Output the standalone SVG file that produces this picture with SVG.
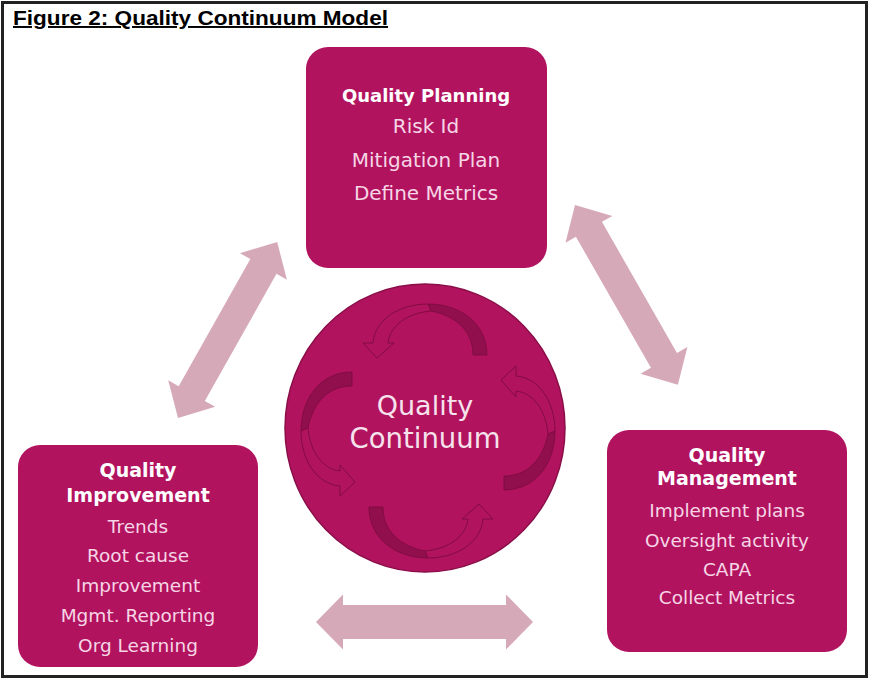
<svg xmlns="http://www.w3.org/2000/svg" xmlns:xlink="http://www.w3.org/1999/xlink" width="873" height="684" viewBox="0 0 873 684">
<style>
.box{fill:#B2135F;}
.t{font-family:"DejaVu Sans","Liberation Sans",sans-serif;text-anchor:middle;}
.hd{font-weight:bold;fill:#FFFFFF;}
.it{fill:#F6D6E6;}
.conn{fill:#D6A9B8;}
.dark{fill:#920F4D;stroke:#7A0B3E;stroke-width:0.8;}
.front{fill:#B2135F;stroke:#7A0B3E;stroke-width:0.9;}
</style>
<defs>
<g id="swirl">
<path class="dark" d="M45,-76 L59,-76 C59,-108 32,-127 0,-127 L3,-120 C28,-115 45,-100 45,-76 Z"/>
<path class="front" d="M-55,-88 C-53,-112 -28,-127 0,-127 L3,-120 C-20,-118 -38,-106 -40,-88 L-34,-88 L-51,-73 L-65,-88 Z"/>
</g>
</defs>
<rect x="0" y="0" width="873" height="684" fill="#FFFFFF"/>
<rect x="2.5" y="2.5" width="864" height="674" fill="none" stroke="#222222" stroke-width="3"/>
<text x="13" y="25" font-family="'Liberation Sans',Arial,sans-serif" font-weight="bold" font-size="19.5" fill="#000000" text-decoration="underline" textLength="375" lengthAdjust="spacingAndGlyphs">Figure 2: Quality Continuum Model</text>

<g id="connectors">
<path class="conn" d="M0,0 L28,-27 L28,-15 L174,-15 L174,-27 L202,0 L174,27 L174,15 L28,15 L28,27 Z" transform="translate(178,418) rotate(-60.6)"/>
<path class="conn" d="M0,0 L28,-27 L28,-15 L179,-15 L179,-27 L207,0 L179,27 L179,15 L28,15 L28,27 Z" transform="translate(575,205) rotate(60.2)"/>
<path class="conn" d="M316,622 L343,594.5 L343,605 L506,605 L506,594.5 L533,622 L506,649.5 L506,639 L343,639 L343,649.5 Z"/>
</g>

<g id="planning">
<rect class="box" x="306" y="47" width="241" height="221" rx="22"/>
<text class="t hd" x="426" y="102" font-size="18">Quality Planning</text>
<text class="t it" x="426" y="133" font-size="20">Risk Id</text>
<text class="t it" x="426" y="167" font-size="20">Mitigation Plan</text>
<text class="t it" x="426" y="200" font-size="20">Define Metrics</text>
</g>

<g id="management">
<rect class="box" x="607" y="430" width="240" height="222" rx="22"/>
<text class="t hd" x="727" y="462" font-size="19">Quality</text>
<text class="t hd" x="727" y="485" font-size="19">Management</text>
<text class="t it" x="727" y="517" font-size="18.5">Implement plans</text>
<text class="t it" x="727" y="547" font-size="18.5">Oversight activity</text>
<text class="t it" x="727" y="576" font-size="18.5">CAPA</text>
<text class="t it" x="727" y="604" font-size="18.5">Collect Metrics</text>
</g>

<g id="improvement">
<rect class="box" x="18" y="445" width="240" height="222" rx="22"/>
<text class="t hd" x="138" y="477" font-size="19">Quality</text>
<text class="t hd" x="138" y="502" font-size="19">Improvement</text>
<text class="t it" x="138" y="533" font-size="18.5">Trends</text>
<text class="t it" x="138" y="562" font-size="18.5">Root cause</text>
<text class="t it" x="138" y="592" font-size="18.5">Improvement</text>
<text class="t it" x="138" y="622" font-size="18.5">Mgmt. Reporting</text>
<text class="t it" x="138" y="652" font-size="18.5">Org Learning</text>
</g>

<g id="continuum">
<ellipse cx="425" cy="428" rx="140" ry="144" fill="#B2135F" stroke="#8A0E48" stroke-width="1.5"/>
<g transform="translate(428,431)">
<use xlink:href="#swirl"/>
<use xlink:href="#swirl" transform="rotate(90)"/>
<use xlink:href="#swirl" transform="rotate(180)"/>
<use xlink:href="#swirl" transform="rotate(270)"/>
</g>
<text class="t" x="425" y="415" font-size="27" fill="#F6E2EC">Quality</text>
<text class="t" x="425" y="448" font-size="27.5" fill="#F6E2EC">Continuum</text>
</g>
</svg>
